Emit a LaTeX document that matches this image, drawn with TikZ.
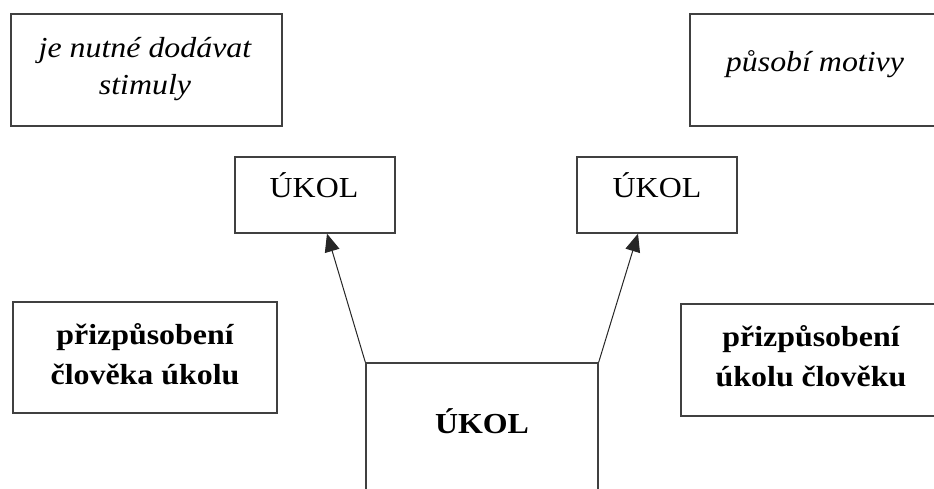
\documentclass[tikz,border=0pt]{standalone}
\usepackage{fontspec}
\setmainfont{Liberation Serif}[FakeStretch=1.1]
\usetikzlibrary{arrows.meta}
\begin{document}
\begin{tikzpicture}[x=1pt,y=-1pt,
  box/.style={draw=black!75, line width=1.3pt, rectangle, inner sep=0pt},
  lbl/.style={font=\fontsize{29}{37}\selectfont, align=center, inner sep=0pt},
  blbl/.style={font=\fontsize{29}{40}\selectfont\bfseries, align=center, inner sep=0pt},
  arr/.style={-{Triangle[length=18pt,width=15pt]}, line width=1pt, black!85}]
\clip (0,0) rectangle (934,489);
% boxes
\node[box, minimum width=271pt, minimum height=112pt] (b1) at (146.5,70) {};
\node[box, minimum width=260pt, minimum height=112pt] (b2) at (820,70) {};
\node[box, minimum width=160pt, minimum height=76pt] (s1) at (315,195) {};
\node[box, minimum width=160pt, minimum height=76pt] (s2) at (657,195) {};
\node[box, minimum width=232pt, minimum height=157pt] (big) at (482,441.5) {};
\node[box, minimum width=264pt, minimum height=111pt] (b5) at (145,357.5) {};
\node[box, minimum width=269pt, minimum height=112pt] (b6) at (815.5,360) {};
% texts
\node[lbl] (t1) at (145,69) {\itshape je nutné dodávat\\\itshape stimuly};
\node[lbl, anchor=base] (t2) at (815,72) {\itshape působí motivy};
\node[lbl, anchor=base] (t3) at (314,198) {ÚKOL};
\node[lbl, anchor=base] (t4) at (657,198) {ÚKOL};
\node[blbl, anchor=base] (t5) at (482,433) {ÚKOL};
\node[blbl] (t6) at (145,354.5) {přizpůsobení\\člověka úkolu};
\node[blbl] (t7) at (811,356.5) {přizpůsobení\\úkolu člověku};
% arrows
\draw[arr] (big.north west) -- ([xshift=12pt]s1.south);
\draw[arr] (big.north east) -- ([xshift=-19pt]s2.south);
\end{tikzpicture}
\end{document}
